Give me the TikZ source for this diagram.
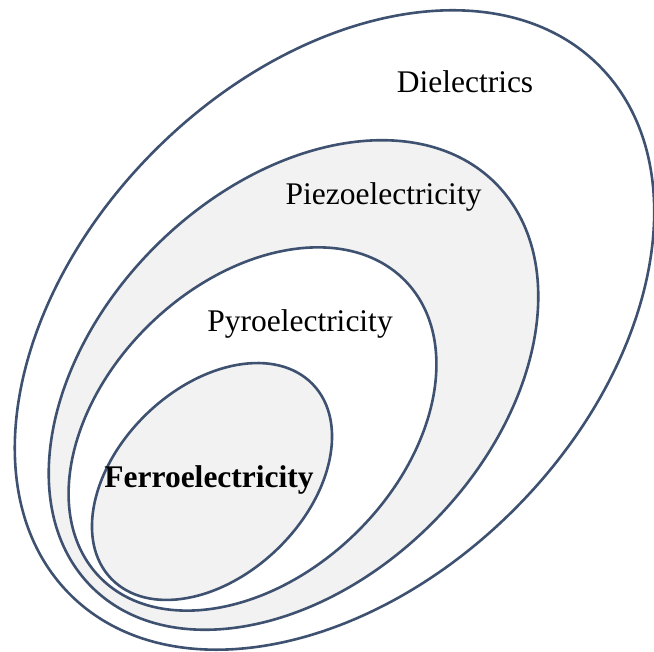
\documentclass[tikz,border=0pt]{standalone}
\usepackage{fontspec}
\setmainfont{Liberation Serif}
\begin{document}
\begin{tikzpicture}[x=1pt,y=1pt,
  ring/.style={draw=ringline,line width=2.6pt},
  label/.style={anchor=base,inner sep=0pt,font=\fontsize{31.5}{36}\selectfont}]
\definecolor{ringline}{HTML}{3E5170}
\definecolor{shade}{HTML}{F2F2F2}
\useasboundingbox (0,0) rectangle (654,652);
\fill[white] (0,0) rectangle (654,652);
% nested classes, outermost first, all tilted about 45 degrees
\draw[ring,fill=white,rotate around={45:(334.5,322)}] (334.5,322) ellipse (374pt and 254pt);
\draw[ring,fill=shade,rotate around={45:(293.5,267)}] (293.5,267) ellipse (285.5pt and 195.7pt);
\draw[ring,fill=white,rotate around={44:(252.5,223)}] (252.5,223) ellipse (212.8pt and 146.7pt);
\draw[ring,fill=shade,rotate around={44:(212,170.5)}] (212,170.5) ellipse (140pt and 94pt);
% class names
\node[label] (diel) at (465,559) {Dielectrics};
\node[label] (piezo) at (383.5,447) {Piezoelectricity};
\node[label] (pyro) at (300,320) {Pyroelectricity};
\node[label,font=\fontsize{31.5}{36}\selectfont\bfseries] (ferro) at (209,164) {Ferroelectricity};
\end{tikzpicture}
\end{document}
